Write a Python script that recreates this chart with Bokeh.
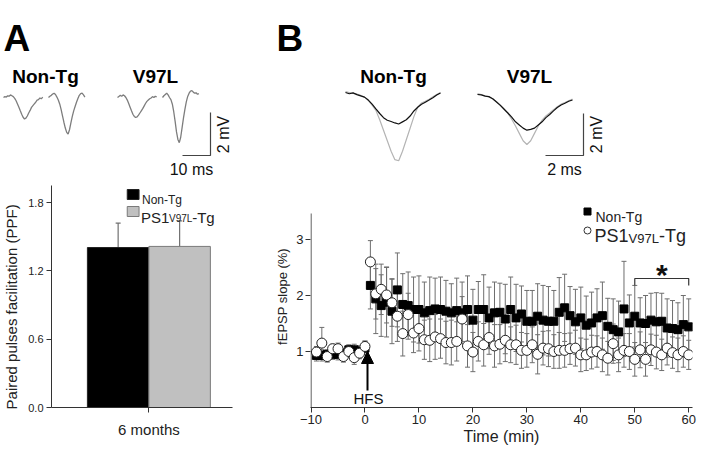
from math import pi
from bokeh.plotting import figure
from bokeh.models import (Range1d, Label, Arrow, NormalHead, Whisker, TeeHead,
                          ColumnDataSource, PrintfTickFormatter)
from bokeh.layouts import column, row
from bokeh.embed import file_html
from bokeh.resources import INLINE
from bokeh.core.properties import value

FONT = "Liberation Sans"

# ---------------- data ----------------
# Panel A: paired-pulse facilitation at 6 months
ppf_groups = ["Non-Tg", "PS1V97L-Tg"]
ppf_mean = [1.405, 1.415]
ppf_sem = [0.215, 0.225]
ppf_category = "6 months"

# Panel A example paired-pulse traces (time ms, voltage mV)
a_t_p1 = [0, 0.5, 1, 1.5, 2, 2.5, 3, 3.5, 4, 4.5, 5, 5.5, 6, 6.5, 7, 7.5, 8, 8.5, 9, 9.5,
          10, 10.5, 11, 11.5, 12, 12.5, 13, 13.5, 14]
a_t_p2 = [0, 0.5, 1, 1.5, 2, 2.5, 3, 3.5, 4, 4.5, 5, 5.5, 6, 6.5, 7, 7.5, 8, 8.5, 9, 9.5,
          10, 10.5, 11, 11.5, 12, 12.5, 13]
a_ntg_p1 = [0.0, 0.04, 0.02, 0.08, 0.06, 0.12, 0.08, 0.04, -0.04, -0.15, -0.3, -0.45, -0.62,
            -0.78, -0.92, -1.0, -0.96, -0.86, -0.72, -0.6, -0.46, -0.38, -0.3, -0.22, -0.12,
            -0.1, -0.02, -0.06, 0.02]
a_ntg_p2 = [0.0, 0.06, 0.1, 0.16, 0.2, 0.14, 0.02, -0.12, -0.3, -0.55, -0.85, -1.15, -1.42,
            -1.62, -1.7, -1.5, -1.18, -0.88, -0.62, -0.42, -0.22, -0.05, 0.1, 0.18, 0.2, 0.12, 0.02]
a_v97_p1 = [0.0, 0.05, 0.1, 0.06, 0.12, 0.08, 0.0, -0.12, -0.28, -0.45, -0.62, -0.78, -0.88,
            -0.93, -0.9, -0.82, -0.72, -0.62, -0.52, -0.4, -0.28, -0.18, -0.12, -0.06, -0.02,
            0.04, 0.0, 0.06, 0.02]
a_v97_p2 = [0.0, 0.08, 0.14, 0.2, 0.12, 0.0, -0.1, -0.3, -0.65, -1.1, -1.6, -1.95, -2.1,
            -1.85, -1.4, -0.95, -0.55, -0.2, 0.05, 0.2, 0.3, 0.32, 0.25, 0.2, 0.22, 0.15, 0.18]

# Panel B example fEPSP traces (time ms, voltage mV): before (black) / after HFS (grey)
b_t = [0, 0.2, 0.4, 0.6, 0.8, 1.0, 1.2, 1.4, 1.6, 1.8, 2.0, 2.2, 2.4, 2.6, 2.8, 3.0, 3.2,
       3.4, 3.6, 3.8, 4.0, 4.2, 4.4, 4.6, 4.8, 5.0]
b_ntg_pre = [0.0, -0.06, -0.02, -0.1, -0.16, -0.22, -0.36, -0.55, -0.78, -1.0, -1.2, -1.32,
             -1.38, -1.45, -1.5, -1.4, -1.3, -1.12, -0.88, -0.7, -0.56, -0.46, -0.36, -0.25,
             -0.12, -0.02]
b_ntg_post = [0.04, 0.0, -0.04, -0.08, -0.14, -0.22, -0.38, -0.6, -0.85, -1.3, -1.8, -2.3,
              -2.8, -3.2, -3.25, -2.8, -2.25, -1.7, -1.15, -0.7, -0.5, -0.42, -0.32, -0.2,
              -0.1, 0.0]
b_v97_pre = [0.0, -0.02, -0.08, -0.1, -0.2, -0.36, -0.52, -0.7, -0.88, -1.08, -1.3, -1.45,
             -1.6, -1.7, -1.66, -1.6, -1.45, -1.3, -1.1, -0.95, -0.78, -0.62, -0.5, -0.42,
             -0.32, -0.26]
b_v97_post = [0.04, 0.0, -0.06, -0.12, -0.2, -0.34, -0.5, -0.68, -0.9, -1.18, -1.5, -1.85,
              -2.2, -2.38, -2.2, -1.85, -1.5, -1.22, -1.02, -0.88, -0.72, -0.58, -0.46,
              -0.38, -0.3, -0.22]

# Panel B: LTP time course
time_min = [-9, -8, -7, -6, -5, -4, -3, -2, -1, 0,
            1, 2, 3, 4, 5, 6, 7, 8, 9, 10, 11, 12, 13, 14, 15, 16, 17, 18, 19, 20,
            21, 22, 23, 24, 25, 26, 27, 28, 29, 30, 31, 32, 33, 34, 35, 36, 37, 38, 39, 40,
            41, 42, 43, 44, 45, 46, 47, 48, 49, 50, 51, 52, 53, 54, 55, 56, 57, 58, 59, 60]
ntg_slope = [0.93, 0.93, 0.95, 0.95, 0.95, 0.97, 1.03, 1.03, 1.00, 1.06,
             2.18, 1.94, 1.82, 1.88, 1.72, 2.10, 1.84, 1.82, 1.75, 1.75,
             1.69, 1.73, 1.76, 1.75, 1.72, 1.69, 1.73, 1.69, 1.75, 1.56,
             1.75, 1.75, 1.60, 1.69, 1.70, 1.58, 1.75, 1.60, 1.67, 1.54,
             1.54, 1.63, 1.56, 1.54, 1.54, 1.70, 1.78, 1.64, 1.53, 1.60,
             1.47, 1.51, 1.60, 1.64, 1.45, 1.39, 1.35, 1.76, 1.51, 1.63,
             1.51, 1.50, 1.56, 1.53, 1.54, 1.42, 1.41, 1.39, 1.48, 1.44]
ntg_sem = [0.10, 0.10, 0.08, 0.09, 0.10, 0.08, 0.09, 0.10, 0.10, 0.12,
           0.42, 0.62, 0.55, 0.62, 0.58, 0.66, 0.55, 0.60, 0.58, 0.60,
           0.55, 0.60, 0.55, 0.58, 0.55, 0.52, 0.58, 0.55, 0.60, 0.55,
           0.50, 0.62, 0.55, 0.55, 0.52, 0.62, 0.58, 0.60, 0.50, 0.55,
           0.55, 0.58, 0.62, 0.62, 0.55, 0.62, 0.60, 0.52, 0.58, 0.55,
           0.52, 0.55, 0.52, 0.60, 0.50, 0.55, 0.55, 0.85, 0.50, 0.55,
           0.45, 0.50, 0.48, 0.52, 0.50, 0.52, 0.50, 0.48, 0.52, 0.50]
ps1_slope = [0.99, 1.15, 0.91, 1.05, 1.05, 0.91, 1.00, 0.89, 0.97, 1.09,
             2.60, 2.03, 2.11, 2.01, 1.87, 1.63, 1.32, 1.66, 1.33, 1.41,
             1.21, 1.20, 1.26, 1.23, 1.16, 1.16, 1.18, 1.58, 1.10, 0.99,
             1.18, 1.12, 1.25, 1.10, 1.13, 1.20, 1.12, 1.12, 1.02, 1.02,
             1.12, 0.95, 1.06, 1.05, 1.00, 1.02, 1.02, 1.05, 1.06, 0.94,
             0.94, 0.99, 1.00, 0.94, 0.88, 1.14, 0.94, 1.02, 1.00, 0.86,
             1.03, 0.86, 1.03, 0.99, 0.94, 1.06, 0.98, 0.94, 1.00, 0.94]
ps1_sem = [0.10, 0.28, 0.10, 0.08, 0.10, 0.10, 0.10, 0.12, 0.10, 0.10,
           0.38, 0.45, 0.45, 0.50, 0.42, 0.45, 0.40, 0.38, 0.35, 0.40,
           0.35, 0.38, 0.40, 0.35, 0.38, 0.40, 0.35, 0.40, 0.38, 0.35,
           0.35, 0.38, 0.30, 0.38, 0.35, 0.38, 0.32, 0.35, 0.32, 0.30,
           0.32, 0.35, 0.30, 0.32, 0.30, 0.32, 0.30, 0.28, 0.32, 0.30,
           0.28, 0.30, 0.28, 0.30, 0.30, 0.35, 0.30, 0.30, 0.32, 0.30,
           0.32, 0.30, 0.28, 0.30, 0.28, 0.30, 0.28, 0.30, 0.28, 0.26]
xticks_b = [-10, 0, 10, 20, 30, 40, 50, 60]
yticks_b = [1, 2, 3]
yticks_a = [0.0, 0.6, 1.2, 1.8]
sig_window = [50, 60]

# ---------------- top strip: example traces (pixel coordinates) ----------------
top = figure(width=704, height=178, x_range=Range1d(0, 704), y_range=Range1d(178, 0),
             x_axis_location=None, y_axis_location=None, toolbar_location=None,
             output_backend="svg", min_border=0)
top.grid.visible = False
top.outline_line_color = None


def place(t, v, x0, y0, px_ms, px_mv):
    return [x0 + ti * px_ms for ti in t], [y0 - vi * px_mv for vi in v]


A_MS, A_MV = 2.8, 21.5
for t, v, x0 in [(a_t_p1, a_ntg_p1, 3), (a_t_p2, a_ntg_p2, 48),
                 (a_t_p1, a_v97_p1, 117), (a_t_p2, a_v97_p2, 162)]:
    xs, ys = place(t, v, x0, 97, A_MS, A_MV)
    top.line(xs, ys, line_color="#7d7d7d", line_width=1.3)

B_MS, B_MV = 19.0, 21.0
for v, x0, y0, col in [(b_ntg_post, 345, 92, "#b4b4b4"), (b_ntg_pre, 345, 92, "#111111"),
                       (b_v97_post, 477, 94, "#b4b4b4"), (b_v97_pre, 477, 94, "#111111")]:
    xs, ys = place(b_t, v, x0, y0, B_MS, B_MV)
    top.line(xs, ys, line_color=col, line_width=1.2)

# scale bars
top.line([210 - 10 * A_MS, 210, 210], [155, 155, 155 - 2 * A_MV], line_color="#444444", line_width=1.2)
top.line([583 - 2 * B_MS, 583, 583], [155, 155, 155 - 2 * B_MV], line_color="#444444", line_width=1.2)

top.text(x=[3], y=[38], text=["A"], text_font=value(FONT), text_font_size="37px",
         text_font_style="bold", text_align="left", text_baseline="alphabetic", text_color="black")
top.text(x=[276], y=[38], text=["B"], text_font=value(FONT), text_font_size="37px",
         text_font_style="bold", text_align="left", text_baseline="alphabetic", text_color="black")
top.text(x=[45, 155, 393, 529], y=[76, 76, 76, 76], text=["Non-Tg", "V97L", "Non-Tg", "V97L"],
         text_font=value(FONT), text_font_size="19px", text_font_style="bold",
         text_align="center", text_baseline="alphabetic", text_color="black")
top.text(x=[191, 564], y=[169, 169], text=["10 ms", "2 ms"], text_font=value(FONT),
         text_font_size="16px", text_align="center", text_baseline="middle", text_color="#111111")
top.text(x=[223, 596], y=[134, 134], text=["2 mV", "2 mV"], angle=pi / 2, text_font=value(FONT),
         text_font_size="16px", text_align="center", text_baseline="middle", text_color="#111111")

# shared vertical layout of the bottom row (frames are aligned by the row)
ROW_H, BORDER_TOP, BORDER_BOTTOM = 273, 7, 44
FRAME_TOP, FRAME_BOTTOM = 178 + BORDER_TOP, 178 + ROW_H - BORDER_BOTTOM
FRAME_H = FRAME_BOTTOM - FRAME_TOP

# ---------------- panel A bar chart ----------------
BX0, BX1, BY1 = -1.584, 1.36, 1.95
bar = figure(width=272, height=ROW_H, x_range=Range1d(BX0, BX1), y_range=Range1d(0, BY1),
             min_border_left=48, min_border_right=40, min_border_top=BORDER_TOP,
             min_border_bottom=BORDER_BOTTOM, toolbar_location=None, output_backend="svg")
SXA = 184 / (BX1 - BX0)
SYA = FRAME_H / BY1


def bx(px):
    return BX0 + (px - 48) / SXA


def by(py):
    return (FRAME_BOTTOM - py) / SYA


lefts = [i - 1 for i in range(len(ppf_groups))]
rights = [i for i in range(len(ppf_groups))]
centers = [i - 0.5 for i in range(len(ppf_groups))]
bar.quad(left=lefts, right=rights, bottom=0, top=ppf_mean,
         fill_color=["#000000", "#c0c0c0"], line_color=["#222222", "#7a7a7a"], line_width=1)
bsrc = ColumnDataSource(dict(base=centers, lower=ppf_mean,
                             upper=[m + s for m, s in zip(ppf_mean, ppf_sem)]))
bar.add_layout(Whisker(source=bsrc, base="base", lower="lower", upper="upper", dimension="height",
                       line_color="#707070", line_width=1.2,
                       upper_head=TeeHead(size=5, line_color="#707070", line_width=1.2),
                       lower_head=None))
bar.xaxis.ticker = [0]
bar.xaxis.major_label_overrides = {0: ppf_category}
bar.yaxis.ticker = yticks_a
bar.yaxis.formatter = PrintfTickFormatter(format="%.1f")
for ax in bar.axis:
    ax.major_tick_out = 5
    ax.major_tick_in = 0
    ax.minor_tick_line_color = None
    ax.axis_line_color = "#333333"
    ax.major_tick_line_color = "#333333"
    ax.major_label_text_font = FONT
    ax.major_label_text_color = "#222222"
    ax.axis_label_text_font = FONT
    ax.axis_label_text_font_style = "normal"
    ax.axis_label_text_color = "#222222"
bar.xaxis.major_label_text_font_size = "15px"
bar.xaxis.major_label_standoff = 8
bar.yaxis.major_label_text_font_size = "11px"
bar.yaxis.major_label_standoff = 3
bar.yaxis.axis_label = "Paired pulses facilitation (PPF)" + "\u00a0" * 5
bar.yaxis.axis_label_text_font_size = "15px"
bar.yaxis.axis_label_standoff = 5
bar.grid.visible = False
bar.outline_line_color = None

# legend A
bar.quad(left=[bx(125), bx(125)], right=[bx(137), bx(137)], bottom=[by(199), by(216)],
         top=[by(189), by(206)], fill_color=["#000000", "#c0c0c0"],
         line_color=["#222222", "#7a7a7a"])
bar.text(x=[bx(140)], y=[by(199)], text=["Non-Tg"], text_font=value(FONT), text_font_size="12px",
         text_baseline="alphabetic", text_color="#222222")
bar.text(x=[bx(139), bx(191)], y=[by(217), by(217)], text=["PS1", "-Tg"], text_font=value(FONT),
         text_font_size="15px", text_baseline="alphabetic", text_color="#222222")
bar.text(x=[bx(167.5)], y=[by(218)], text=["V97L"], text_font=value(FONT), text_font_size="10px",
         text_baseline="alphabetic", text_color="#222222")

# ---------------- panel B LTP time course ----------------
LX0, LX1 = -10.1, 60.7
SYL = 56.0
LY1 = FRAME_H / SYL
ltp = figure(width=432, height=ROW_H, x_range=Range1d(LX0, LX1), y_range=Range1d(0, LY1),
             min_border_left=38, min_border_right=12, min_border_top=BORDER_TOP,
             min_border_bottom=BORDER_BOTTOM, toolbar_location=None, output_backend="svg")
SXL = 382 / (LX1 - LX0)


def lx(px):
    return LX0 + (px - 310) / SXL


def ly(py):
    return (FRAME_BOTTOM - py) / SYL


ltp.grid.visible = False
ltp.outline_line_color = None
ltp.xaxis.ticker = xticks_b
ltp.yaxis.ticker = yticks_b
for ax in ltp.axis:
    ax.major_tick_out = 5
    ax.major_tick_in = 0
    ax.minor_tick_line_color = None
    ax.axis_line_color = "#333333"
    ax.major_tick_line_color = "#333333"
    ax.major_label_text_font = FONT
    ax.major_label_text_color = "#222222"
    ax.major_label_text_font_size = "13px"
    ax.major_label_standoff = 2
    ax.axis_label_text_font = FONT
    ax.axis_label_text_font_style = "normal"
    ax.axis_label_text_color = "#222222"
ltp.yaxis.axis_line_color = None
ltp.xaxis.axis_label = "Time (min)"
ltp.xaxis.axis_label_text_font_size = "16px"
ltp.xaxis.axis_label_standoff = 1
ltp.yaxis.axis_label = "fEPSP slope (%)"
ltp.yaxis.axis_label_text_font_size = "13px"
ltp.yaxis.axis_label_standoff = 3
ltp.segment(x0=[-10], y0=[0], x1=[-10], y1=[ly(213)], line_color="#333333", line_width=1)

for slope, sem in [(ps1_slope, ps1_sem), (ntg_slope, ntg_sem)]:
    src = ColumnDataSource(dict(base=time_min, lower=[m - s for m, s in zip(slope, sem)],
                                upper=[m + s for m, s in zip(slope, sem)]))
    ltp.add_layout(Whisker(source=src, base="base", lower="lower", upper="upper",
                           dimension="height", line_color="#6e6e6e", line_width=1,
                           upper_head=TeeHead(size=5, line_color="#6e6e6e", line_width=1),
                           lower_head=TeeHead(size=5, line_color="#6e6e6e", line_width=1)))

ltp.scatter(time_min, ntg_slope, marker="square", size=8, fill_color="black", line_color="black")
ltp.scatter(time_min, ps1_slope, marker="circle", size=10, fill_color="white",
            line_color="#222222", line_width=1)

# significance bracket
ltp.line([sig_window[0], sig_window[0], sig_window[1], sig_window[1]],
         [ly(285), ly(278), ly(278), ly(285)], line_color="#333333", line_width=1.2)
ltp.text(x=[(sig_window[0] + sig_window[1]) / 2], y=[ly(257)], text=["*"], text_font=value(FONT),
         text_font_size="30px", text_font_style="bold", text_align="center", text_baseline="top",
         text_color="#111111")

# HFS arrow
ltp.add_layout(Arrow(end=NormalHead(size=12, fill_color="black", line_color="black"),
                     x_start=lx(367), y_start=ly(390), x_end=lx(367), y_end=ly(351),
                     line_color="black", line_width=2))
ltp.add_layout(Label(x=lx(368), y=ly(398), text="HFS", text_align="center", text_baseline="middle",
                     text_font=FONT, text_font_size="15px", text_color="#111111"))

# legend B
ltp.scatter([lx(587)], [ly(211)], marker="square", size=7, fill_color="black", line_color="black")
ltp.scatter([lx(587)], [ly(230)], marker="circle", size=7, fill_color="white", line_color="#333333")
ltp.text(x=[lx(595)], y=[ly(216)], text=["Non-Tg"], text_font=value(FONT), text_font_size="14px",
         text_baseline="alphabetic", text_color="#222222")
ltp.text(x=[lx(594), lx(658.5)], y=[ly(235.5), ly(235.5)], text=["PS1", "-Tg"],
         text_font=value(FONT), text_font_size="18px", text_baseline="alphabetic",
         text_color="#222222")
ltp.text(x=[lx(628)], y=[ly(237.5)], text=["V97L"], text_font=value(FONT), text_font_size="13px",
         text_baseline="alphabetic", text_color="#222222")

layout = column(top, row(bar, ltp))
open("out.html", "w").write(file_html(layout, INLINE))
